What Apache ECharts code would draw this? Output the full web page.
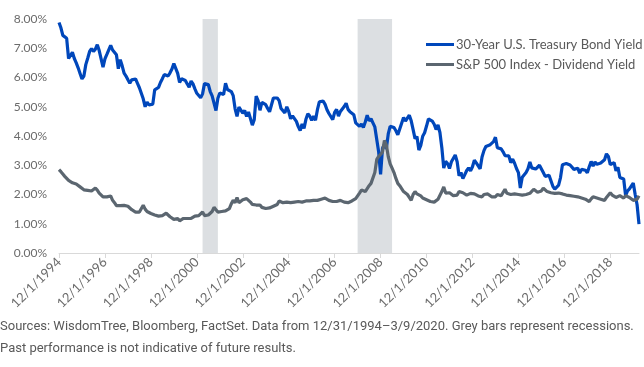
<!DOCTYPE html>
<html>
<head>
<meta charset="utf-8">
<script src="https://cdn.jsdelivr.net/npm/echarts@6/dist/echarts.min.js"></script>
<style>
html,body{margin:0;padding:0;background:#fff;}
#chart{width:644px;height:367px;}
</style>
</head>
<body>
<div id="chart"></div>
<script>
// Monthly categories: Dec 1994 .. Mar 2020
var categories = [];
(function(){
  var y = 1994, m = 12;
  while (y < 2020 || (y === 2020 && m <= 3)) {
    categories.push(m + '/1/' + y);
    m++; if (m > 12) { m = 1; y++; }
  }
})();

var seriesNames = ['30-Year U.S. Treasury Bond Yield', 'S&P 500 Index - Dividend Yield'];

// 30-Year U.S. Treasury Bond Yield (%)
var treasuryYield = [
  7.88,
  7.70, 7.44, 7.43, 7.34, 6.65, 6.63, 6.86, 6.65, 6.50, 6.33, 6.14, 5.95,
  6.05, 6.44, 6.66, 6.89, 6.99, 6.89, 6.97, 7.12, 6.92, 6.64, 6.35, 6.64,
  6.79, 6.80, 7.10, 6.94, 6.91, 6.78, 6.30, 6.61, 6.40, 6.15, 6.05, 5.92,
  5.80, 5.92, 5.93, 5.95, 5.80, 5.65, 5.71, 5.27, 5.00, 5.16, 5.06, 5.09,
  5.09, 5.58, 5.63, 5.66, 5.83, 5.96, 6.10, 6.06, 6.05, 6.16, 6.29, 6.48,
  6.49, 6.14, 5.83, 5.96, 6.01, 5.90, 5.78, 5.67, 5.88, 5.78, 5.61, 5.46,
  5.50, 5.31, 5.44, 5.79, 5.75, 5.76, 5.52, 5.37, 5.42, 4.87, 5.29, 5.47,
  5.43, 5.42, 5.80, 5.59, 5.62, 5.52, 5.38, 4.93, 4.67, 4.99, 5.04, 4.78,
  4.87, 4.67, 4.82, 4.78, 4.37, 4.56, 5.36, 5.21, 4.88, 5.15, 5.11, 5.07,
  4.94, 4.83, 4.77, 5.30, 5.32, 5.30, 5.21, 4.94, 4.89, 4.79, 5.00, 4.84,
  4.59, 4.69, 4.75, 4.50, 4.32, 4.19, 4.41, 4.26, 4.57, 4.76, 4.68, 4.54,
  4.68, 4.54, 4.90, 5.17, 5.21, 5.19, 5.08, 4.90, 4.77, 4.72, 4.56, 4.81,
  4.91, 4.68, 4.84, 4.81, 5.01, 5.12, 4.91, 4.83, 4.83, 4.73, 4.45, 4.45,
  4.33, 4.41, 4.29, 4.48, 4.71, 4.52, 4.59, 4.45, 4.31, 4.33, 3.45, 2.69,
  3.58, 3.71, 3.56, 4.07, 4.33, 4.32, 4.29, 4.18, 4.04, 4.24, 4.22, 4.63,
  4.51, 4.57, 4.71, 4.52, 4.22, 3.91, 3.98, 3.52, 3.68, 3.99, 4.11, 4.34,
  4.58, 4.52, 4.51, 4.40, 4.22, 4.38, 4.12, 3.60, 2.90, 3.13, 3.06, 2.89,
  3.12, 3.09, 3.35, 3.12, 2.64, 2.75, 2.55, 2.68, 2.82, 2.91, 2.81, 2.95,
  3.17, 3.08, 3.10, 2.88, 3.28, 3.50, 3.64, 3.70, 3.69, 3.63, 3.81, 3.96,
  3.60, 3.59, 3.56, 3.46, 3.33, 3.36, 3.32, 3.09, 3.21, 3.07, 2.89, 2.75,
  2.22, 2.59, 2.54, 2.75, 2.88, 3.11, 2.91, 2.93, 2.87, 2.92, 3.00, 3.01,
  2.75, 2.62, 2.61, 2.66, 2.65, 2.28, 2.18, 2.23, 2.32, 2.58, 3.02, 3.07,
  3.06, 3.00, 3.01, 2.96, 2.86, 2.84, 2.90, 2.73, 2.86, 2.88, 2.83, 2.74,
  2.95, 3.13, 2.97, 3.11, 3.03, 2.98, 3.08, 3.02, 3.19, 3.39, 3.30, 3.02,
  3.00, 3.09, 2.81, 2.93, 2.58, 2.52, 2.53, 1.96, 2.12, 2.19, 2.21, 2.39,
  2.00, 1.65, 0.99
];

// S&P 500 Index - Dividend Yield (%)
var dividendYield = [
  2.85,
  2.78, 2.70, 2.62, 2.56, 2.48, 2.44, 2.40, 2.38, 2.36, 2.32, 2.26, 2.22,
  2.16, 2.15, 2.14, 2.14, 2.12, 2.13, 2.22, 2.15, 2.05, 2.00, 1.92, 1.96,
  1.92, 1.88, 1.95, 1.80, 1.72, 1.62, 1.56, 1.62, 1.60, 1.63, 1.58, 1.60,
  1.55, 1.48, 1.42, 1.40, 1.41, 1.40, 1.42, 1.63, 1.50, 1.42, 1.36, 1.35,
  1.32, 1.30, 1.28, 1.26, 1.30, 1.28, 1.30, 1.36, 1.30, 1.24, 1.20, 1.15,
  1.12, 1.18, 1.10, 1.14, 1.18, 1.16, 1.18, 1.12, 1.18, 1.20, 1.26, 1.24,
  1.28, 1.34, 1.40, 1.28, 1.25, 1.30, 1.35, 1.42, 1.56, 1.48, 1.40, 1.40,
  1.42, 1.40, 1.44, 1.50, 1.52, 1.68, 1.80, 1.72, 1.90, 1.72, 1.68, 1.82,
  1.88, 1.86, 1.80, 1.74, 1.66, 1.64, 1.64, 1.62, 1.64, 1.56, 1.54, 1.52,
  1.52, 1.54, 1.58, 1.60, 1.64, 1.66, 1.78, 1.80, 1.72, 1.70, 1.74, 1.70,
  1.72, 1.70, 1.74, 1.72, 1.76, 1.76, 1.74, 1.76, 1.78, 1.80, 1.78, 1.80,
  1.80, 1.82, 1.80, 1.82, 1.84, 1.86, 1.88, 1.86, 1.80, 1.78, 1.76, 1.78,
  1.76, 1.80, 1.80, 1.78, 1.74, 1.70, 1.72, 1.78, 1.78, 1.76, 1.86, 1.90,
  2.05, 2.15, 2.20, 2.10, 2.12, 2.30, 2.38, 2.35, 2.75, 3.20, 3.30, 3.25,
  3.45, 3.85, 3.70, 3.30, 3.05, 2.90, 2.75, 2.55, 2.38, 2.30, 2.20, 2.10,
  2.08, 2.00, 1.90, 1.80, 2.00, 2.10, 2.02, 2.08, 1.95, 1.88, 1.85, 1.82,
  1.78, 1.76, 1.78, 1.74, 1.78, 1.84, 1.88, 2.10, 2.26, 2.05, 2.08, 2.06,
  2.00, 1.96, 1.95, 1.98, 2.10, 2.06, 2.06, 2.02, 1.98, 2.00, 2.04, 2.08,
  2.02, 2.00, 1.95, 1.96, 1.92, 2.00, 1.94, 2.02, 1.98, 1.92, 1.90, 1.92,
  2.00, 1.98, 1.96, 2.00, 2.18, 2.04, 2.02, 2.00, 2.04, 2.02, 1.98, 2.00,
  2.00, 1.98, 2.00, 2.00, 2.02, 2.04, 2.02, 2.18, 2.24, 2.08, 2.10, 2.12,
  2.22, 2.20, 2.10, 2.08, 2.06, 2.08, 2.04, 2.04, 2.05, 2.06, 2.02, 2.00,
  1.98, 1.96, 1.96, 1.95, 1.94, 1.94, 1.92, 1.90, 1.88, 1.86, 1.84, 1.80,
  1.76, 1.85, 1.92, 1.90, 1.88, 1.86, 1.84, 1.82, 1.80, 1.90, 1.92, 2.06,
  1.98, 1.92, 1.90, 1.88, 1.96, 1.90, 1.88, 1.96, 1.92, 1.90, 1.86, 1.80,
  1.78, 1.84, 1.96
];

// Recession periods (start, end)
var recessions = [
  ['3/1/2001', '11/1/2001'],
  ['12/1/2007', '6/1/2009']
];

var yTicks = { min: 0, max: 8, interval: 1 };

var footerLines = [
  'Sources: WisdomTree, Bloomberg, FactSet. Data from 12/31/1994\u20133/9/2020. Grey bars represent recessions.',
  'Past performance is not indicative of future results.'
];

var FONT = 'Lato';
var chart = echarts.init(document.getElementById('chart'), null, { renderer: 'canvas' });

chart.setOption({
  animation: false,
  backgroundColor: '#ffffff',
  grid: { left: 59, right: 5, top: 19, bottom: 114 },
  legend: {
    data: seriesNames,
    orient: 'vertical',
    left: 421,
    top: 33,
    itemWidth: 28,
    itemHeight: 3,
    itemGap: 7,
    icon: 'rect',
    textStyle: { color: '#595959', fontSize: 13, fontFamily: FONT, padding: [0, 0, 0, -3] }
  },
  xAxis: {
    type: 'category',
    data: categories,
    boundaryGap: false,
    axisLine: { lineStyle: { color: '#d9d9d9', width: 1 } },
    axisTick: { show: true, interval: 23, length: 5, lineStyle: { color: '#d9d9d9' } },
    axisLabel: { interval: 23, rotate: 45, color: '#6b6b6b', fontSize: 13, fontFamily: FONT, margin: 7 },
    splitLine: { show: false }
  },
  yAxis: {
    type: 'value',
    min: yTicks.min,
    max: yTicks.max,
    interval: yTicks.interval,
    axisLine: { show: false },
    axisTick: { show: false },
    splitLine: { show: false },
    axisLabel: {
      color: '#6b6b6b', fontSize: 12, fontFamily: FONT, margin: 12,
      formatter: function (v) { return v.toFixed(2) + '%'; }
    }
  },
  series: [
    {
      name: 'recessions',
      type: 'line',
      data: [],
      z: 1,
      silent: true,
      markArea: {
        silent: true,
        itemStyle: { color: '#dcdfe2' },
        data: recessions.map(function (r) {
          return [{ xAxis: r[0], yAxis: yTicks.min }, { xAxis: r[1], yAxis: yTicks.max }];
        })
      }
    },
    {
      name: seriesNames[0],
      type: 'line',
      data: treasuryYield,
      showSymbol: false,
      z: 3,
      color: '#0047BB',
      lineStyle: { color: '#0047BB', width: 3.2 },
      itemStyle: { color: '#0047BB' }
    },
    {
      name: seriesNames[1],
      type: 'line',
      data: dividendYield,
      showSymbol: false,
      z: 4,
      color: '#5B6670',
      lineStyle: { color: '#5B6670', width: 3.2 },
      itemStyle: { color: '#5B6670' }
    }
  ],
  graphic: footerLines.map(function (t, i) {
    return {
      type: 'text',
      left: 0,
      top: 320 + i * 22,
      style: { text: t, fill: '#595959', fontSize: 13, fontFamily: 'Roboto' }
    };
  })
});
</script>
</body>
</html>
